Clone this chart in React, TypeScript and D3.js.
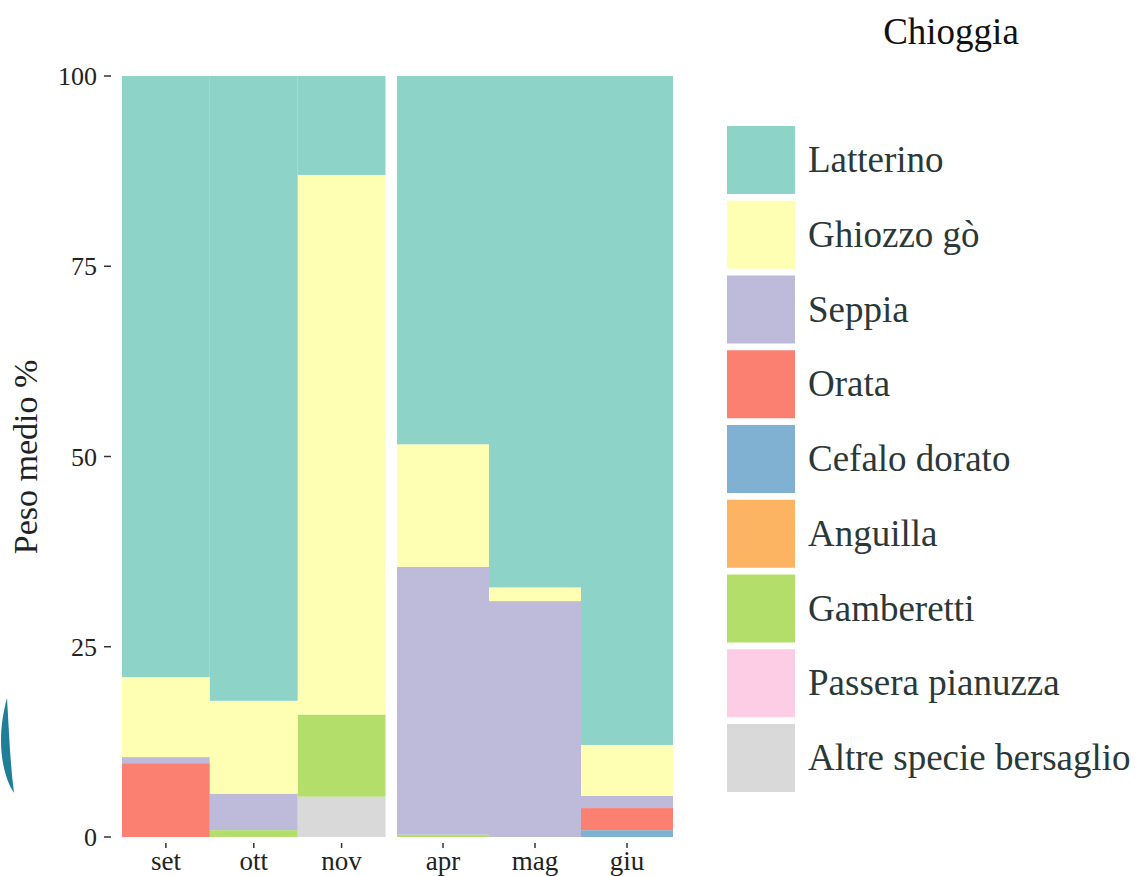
import React from "react";
import * as d3 from "d3";

const monthsLeft = ["set", "ott", "nov"];
const monthsRight = ["apr", "mag", "giu"];
const allMonths = [...monthsLeft, ...monthsRight];

const species = [
  "Latterino",
  "Ghiozzo gò",
  "Seppia",
  "Orata",
  "Cefalo dorato",
  "Anguilla",
  "Gamberetti",
  "Passera pianuzza",
  "Altre specie bersaglio",
];

const colors = ["#8DD3C7", "#FFFFB3", "#BEBADA", "#FB8072", "#80B1D3", "#FDB462", "#B3DE69", "#FCCDE5", "#D9D9D9"];

// values per month in order: set, ott, nov, apr, mag, giu
const latterino = [79.0, 82.1, 13.0, 48.4, 67.2, 87.9];
const ghiozzo = [10.5, 12.2, 70.9, 16.1, 1.8, 6.7];
const seppia = [0.8, 4.8, 0, 35.2, 31.0, 1.6];
const orata = [9.7, 0, 0, 0, 0, 2.9];
const cefalo = [0, 0, 0, 0, 0, 0.9];
const anguilla = [0, 0, 0, 0, 0, 0];
const gamberetti = [0, 0.9, 10.8, 0.3, 0, 0];
const passera = [0, 0, 0, 0, 0, 0];
const altre = [0, 0, 5.3, 0, 0, 0];

const seriesValues = [latterino, ghiozzo, seppia, orata, cefalo, anguilla, gamberetti, passera, altre];
const yTicks = [0, 25, 50, 75, 100];

const FONT = "Liberation Serif, Times New Roman, serif";

export default function App() {
  const W = 1144;
  const H = 876;
  const y = d3.scaleLinear().domain([0, 100]).range([837, 76]);
  const xLeft = d3.scaleBand().domain(monthsLeft).range([122, 385.5]).padding(0);
  const xRight = d3.scaleBand().domain(monthsRight).range([397, 673]).padding(0);
  const xOf = (m: string) => (monthsLeft.includes(m) ? xLeft : xRight);

  const table = allMonths.map((m, i) => {
    const row: any = { month: m };
    species.forEach((s, j) => (row[s] = seriesValues[j][i]));
    return row;
  });
  const stackKeys = [...species].reverse();
  const stacked = d3.stack().keys(stackKeys)(table);

  const legendY0 = 126;
  const legendStep = 74.75;
  const keyH = 68;

  return (
    <svg width={W} height={H} style={{ position: "absolute", left: 0, top: 0, fontFamily: FONT }}>
      <rect x={0} y={0} width={W} height={H} fill="#fff" />
      {/* decorative logo fragment */}
      <path d="M 7 698 C 9 730, 10 762, 14 793 C 3 776, -5 742, 7 698 Z" fill="#1f7f98" />

      {/* bars */}
      {stacked.map((layer) => {
        const idx = species.indexOf(layer.key);
        return layer.map((d: any, i: number) => {
          const m = allMonths[i];
          const sc = xOf(m);
          const h = y(d[0]) - y(d[1]);
          if (h <= 0) return null;
          return (
            <rect
              key={layer.key + m}
              x={sc(m)}
              y={y(d[1])}
              width={sc.bandwidth()}
              height={h}
              fill={colors[idx]}
            />
          );
        });
      })}

      {/* y axis */}
      {yTicks.map((t) => (
        <g key={t}>
          <line x1={104} x2={111} y1={y(t)} y2={y(t)} stroke="#333" strokeWidth={1.5} />
          <text x={97} y={y(t)} dy="0.35em" textAnchor="end" fontSize={26} fill="#222" style={{ fontFamily: FONT }}>
            {t}
          </text>
        </g>
      ))}
      <text
        transform={`translate(37,457) rotate(-90)`}
        textAnchor="middle"
        fontSize={34}
        fill="#222"
        style={{ fontFamily: FONT }}
      >
        Peso medio %
      </text>

      {/* x axis */}
      {allMonths.map((m) => {
        const sc = xOf(m);
        const cx = (sc(m) as number) + sc.bandwidth() / 2;
        return (
          <g key={m}>
            <line x1={cx} x2={cx} y1={843} y2={848} stroke="#333" strokeWidth={1.5} />
            <text x={cx} y={870} textAnchor="middle" fontSize={27} fill="#222" style={{ fontFamily: FONT }}>
              {m}
            </text>
          </g>
        );
      })}

      {/* title */}
      <text x={951} y={44} textAnchor="middle" fontSize={37} fill="#111" style={{ fontFamily: FONT }}>
        Chioggia
      </text>

      {/* legend */}
      {species.map((s, i) => {
        const ky = legendY0 + i * legendStep;
        return (
          <g key={s}>
            <rect x={727} y={ky} width={68} height={keyH} fill={colors[i]} />
            <text x={808} y={ky + keyH / 2} dy="0.33em" fontSize={37} fill="#2b3838" style={{ fontFamily: FONT }}>
              {s}
            </text>
          </g>
        );
      })}
    </svg>
  );
}
